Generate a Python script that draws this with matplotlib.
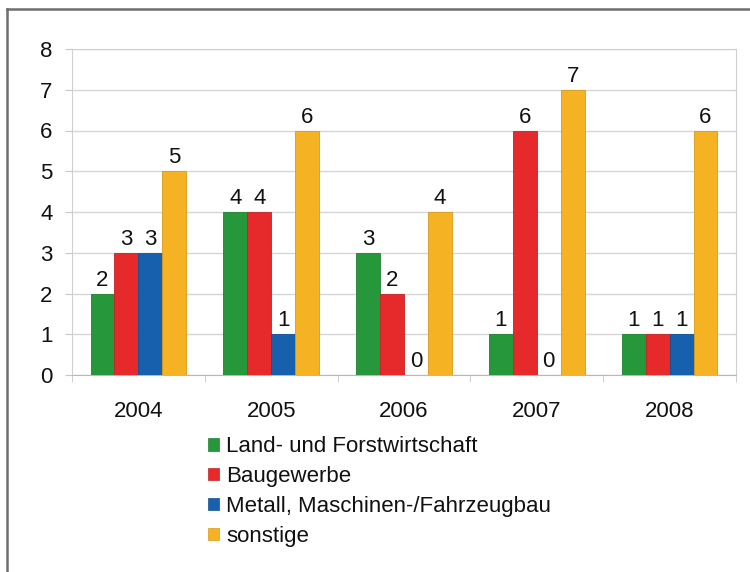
import matplotlib.pyplot as plt
import numpy as np
from matplotlib.lines import Line2D
from matplotlib.patches import Patch

plt.switch_backend("Agg")
plt.rcParams["font.family"] = ["Liberation Sans", "DejaVu Sans"]

# data
years = ["2004", "2005", "2006", "2007", "2008"]
land_forst = [2, 4, 3, 1, 1]
baugewerbe = [3, 4, 2, 6, 1]
metall = [3, 1, 0, 0, 1]
sonstige = [5, 6, 4, 7, 6]
series_labels = ["Land- und Forstwirtschaft", "Baugewerbe",
                 "Metall, Maschinen-/Fahrzeugbau", "sonstige"]
colors = ["#26973a", "#e62a2c", "#1760ae", "#f5b323"]
edges = ["#1f8030", "#c42224", "#124f92", "#d89a18"]

fig = plt.figure(figsize=(7.5, 5.72), dpi=100)
ax = fig.add_axes([72 / 750, 1 - 375 / 572, 664 / 750, 326 / 572])

x = np.arange(len(years))
width = 0.18
series = [land_forst, baugewerbe, metall, sonstige]
for i, vals in enumerate(series):
    bars = ax.bar(x + (i - 1.5) * width, vals, width, color=colors[i],
                  edgecolor=edges[i], linewidth=0.6, zorder=3)
    ax.bar_label(bars, padding=2, fontsize=16, color="#111111")

ax.set_xlim(-0.5, len(years) - 0.5)
ax.set_ylim(0, 8)
ax.set_yticks(range(9))
ax.tick_params(axis="y", length=5, color="#c8c8c8", pad=9, labelsize=16,
               labelcolor="#111111")
ax.set_xticks(x)
ax.set_xticklabels(years)
ax.tick_params(axis="x", which="major", length=0, pad=19, labelsize=16,
               labelcolor="#111111")
ax.set_xticks(np.arange(len(years) + 1) - 0.5, minor=True)
ax.tick_params(axis="x", which="minor", length=5, color="#c8c8c8")
ax.grid(axis="y", color="#d6d6d6", linewidth=1, zorder=0)
for s in ax.spines.values():
    s.set_color("#d0d0d0")
ax.spines["bottom"].set_color("#b8b8b8")

handles = [Patch(facecolor=c, edgecolor=e, linewidth=0.5) for c, e in zip(colors, edges)]
fig.legend(handles, series_labels, loc="upper left",
           bbox_to_anchor=(197 / 750, 1 - 425 / 572), frameon=False,
           fontsize=16, handlelength=0.5, handleheight=0.5,
           handletextpad=0.3, labelspacing=0.4, borderpad=0,
           labelcolor="#111111")

# outer frame lines (top and left only)
fig.add_artist(Line2D([7 / 750, 7 / 750], [0, 1 - 9 / 572], color="#6e6e6e",
                      linewidth=1.8, transform=fig.transFigure))
fig.add_artist(Line2D([7 / 750, 1], [1 - 9 / 572, 1 - 9 / 572], color="#6e6e6e",
                      linewidth=1.8, transform=fig.transFigure))

fig.savefig("out.png", dpi=100)
